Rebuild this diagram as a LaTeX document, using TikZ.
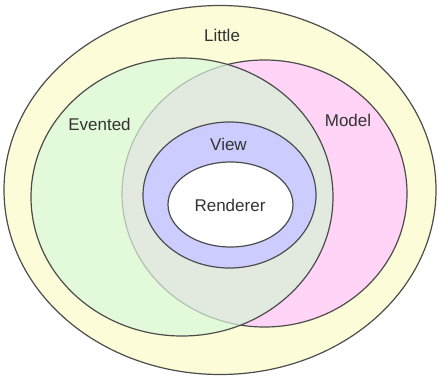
\documentclass[tikz,border=0pt]{standalone}
\usepackage{fontspec}
\setmainfont{Liberation Sans}
\begin{document}
\begin{tikzpicture}[x=1pt,y=-1pt,
  lbl/.style={font=\fontsize{17}{19}\selectfont, text=black!80},
  edge/.style={draw=black!70, line width=1.2pt}]
\definecolor{littlec}{RGB}{253,252,216}
\definecolor{eventc}{RGB}{226,250,217}
\definecolor{modelc}{RGB}{255,212,246}
\definecolor{overc}{RGB}{226,234,224}
\definecolor{viewc}{RGB}{204,204,255}
\definecolor{fadec}{RGB}{175,190,175}
\useasboundingbox (0,0) rectangle (438,377);
% Little
\draw[edge, fill=littlec] (220,190) ellipse [x radius=216, y radius=184.5];
% Model
\draw[edge, fill=modelc] (264.5,193.5) ellipse [x radius=142.5, y radius=133.5];
% Evented
\fill[eventc] (182,197) ellipse [x radius=151, y radius=139];
\begin{scope}
  \clip (264.5,193.5) ellipse [x radius=142.5, y radius=133.5];
  \fill[overc] (182,197) ellipse [x radius=151, y radius=139];
\end{scope}
\begin{scope}
  \clip (182,197) ellipse [x radius=150, y radius=138];
  \draw[draw=fadec, line width=1.1pt] (264.5,193.5) ellipse [x radius=142.5, y radius=133.5];
\end{scope}
\draw[edge] (182,197) ellipse [x radius=151, y radius=139];
% View
\draw[edge, fill=viewc] (229.5,195) ellipse [x radius=86.5, y radius=73];
% Renderer
\draw[edge, fill=white] (230.5,204.5) ellipse [x radius=62.5, y radius=42.5];
% labels
\node[lbl] (little) at (222,35) {Little};
\node[lbl] (evented) at (99.5,124) {Evented};
\node[lbl] (model) at (348,120) {Model};
\node[lbl] (view) at (228.5,144) {View};
\node[lbl] (renderer) at (230,205) {Renderer};
\end{tikzpicture}
\end{document}
